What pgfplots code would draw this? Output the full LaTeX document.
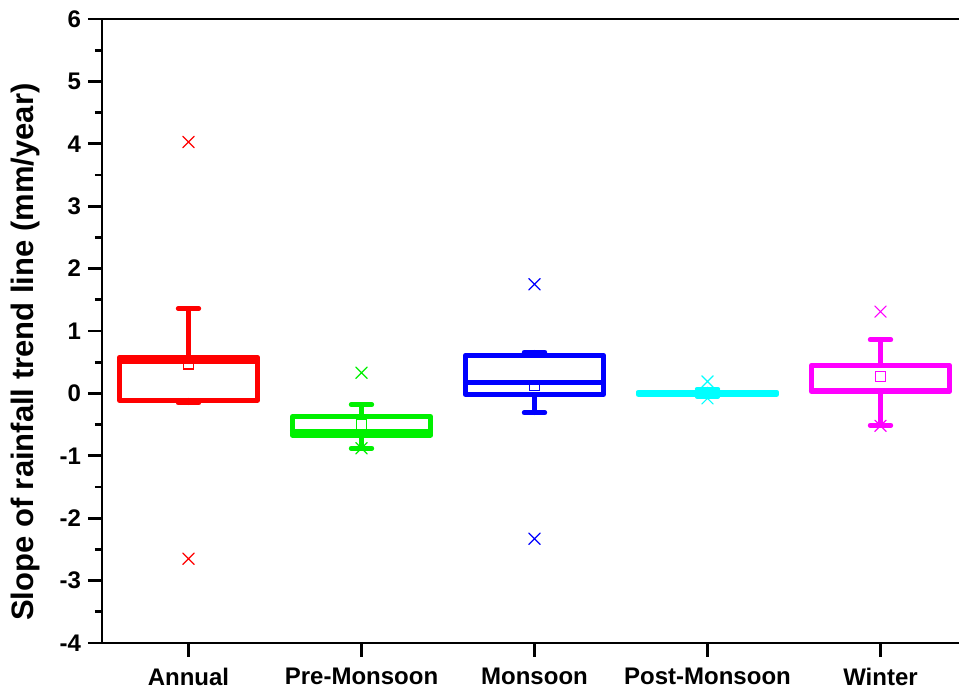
\documentclass[border=0pt]{standalone}
\usepackage{fontspec}
\setmainfont{Liberation Sans}
\usepackage{pgfplots}
\pgfplotsset{compat=1.18}
\usepgfplotslibrary{statistics}
\definecolor{cred}{RGB}{255,0,0}
\definecolor{cgreen}{RGB}{0,240,0}
\definecolor{cblue}{RGB}{0,0,255}
\definecolor{ccyan}{RGB}{0,255,255}
\definecolor{cmag}{RGB}{255,0,255}
\begin{document}
\begin{tikzpicture}
\begin{axis}[
  scale only axis, width=432.5pt, height=312pt,
  xmin=-0.5, xmax=4.5, ymin=-4, ymax=6,
  separate axis lines, axis line style={line width=1.4pt},
  tick pos=left, tick align=outside,
  major tick length=7pt, minor tick length=3.5pt,
  every tick/.style={black, line width=1.4pt},
  xtick={0,...,4}, xticklabels={Annual,Pre-Monsoon,Monsoon,Post-Monsoon,Winter},
  ytick={-4,...,6}, minor y tick num=1,
  /pgf/number format/assume math mode=true,
  tick label style={font=\bfseries\fontsize{12}{14}\selectfont},
  xticklabel style={yshift=-2pt},
  ylabel={Slope of rainfall trend line (mm/year)},
  ylabel style={font=\bfseries\fontsize{15.5}{18}\selectfont, at={(axis description cs:-0.0879,0.466)}, anchor=center},
  boxplot/draw direction=y,
  boxplot/box extend=0.8, boxplot/whisker extend=0.12,
]
\addplot[cred, solid, line width=2.3pt, line join=round, line cap=round, mark=x, mark size=4pt, mark options={cred, line width=0.6pt},
  boxplot prepared={draw position=0, lower whisker=-0.15, lower quartile=-0.11, median=0.5, upper quartile=0.58, upper whisker=1.36}]
  coordinates {(0,4.03) (0,-2.65)};
\addplot[cgreen, solid, line width=2.3pt, line join=round, line cap=round, mark=x, mark size=4pt, mark options={cgreen, line width=0.6pt},
  boxplot prepared={draw position=1, lower whisker=-0.88, lower quartile=-0.67, median=-0.6, upper quartile=-0.37, upper whisker=-0.18}]
  coordinates {(1,0.33) (1,-0.88)};
\addplot[cblue, solid, line width=2.3pt, line join=round, line cap=round, mark=x, mark size=4pt, mark options={cblue, line width=0.6pt},
  boxplot prepared={draw position=2, lower whisker=-0.31, lower quartile=-0.02, median=0.17, upper quartile=0.61, upper whisker=0.66}]
  coordinates {(2,1.75) (2,-2.33)};
\addplot[ccyan, solid, line width=2.3pt, line join=round, line cap=round, mark=x, mark size=4pt, mark options={ccyan, line width=0.6pt},
  boxplot prepared={draw position=3, lower whisker=-0.05, lower quartile=-0.02, median=0.0, upper quartile=0.02, upper whisker=0.07}]
  coordinates {(3,0.19) (3,-0.08)};
\addplot[cmag, solid, line width=2.3pt, line join=round, line cap=round, mark=x, mark size=4pt, mark options={cmag, line width=0.6pt},
  boxplot prepared={draw position=4, lower whisker=-0.51, lower quartile=0.03, median=0.05, upper quartile=0.45, upper whisker=0.86}]
  coordinates {(4,1.31) (4,-0.52)};
% means
\addplot[only marks, cred, mark=square, mark size=2.5pt, mark options={cred, line width=0.6pt}] coordinates {(0,0.47)};
\addplot[only marks, cgreen, mark=square, mark size=2.5pt, mark options={cgreen, line width=0.6pt}] coordinates {(1,-0.5)};
\addplot[only marks, cblue, mark=square, mark size=2.5pt, mark options={cblue, line width=0.6pt}] coordinates {(2,0.13)};
\addplot[only marks, ccyan, mark=square, mark size=2.5pt, mark options={ccyan, line width=0.6pt}] coordinates {(3,0.0)};
\addplot[only marks, cmag, mark=square, mark size=2.5pt, mark options={cmag, line width=0.6pt}] coordinates {(4,0.27)};
\end{axis}
\pgfresetboundingbox
\useasboundingbox (-51pt,-23pt) rectangle (428.5pt,321.5pt);
\end{tikzpicture}
\end{document}
